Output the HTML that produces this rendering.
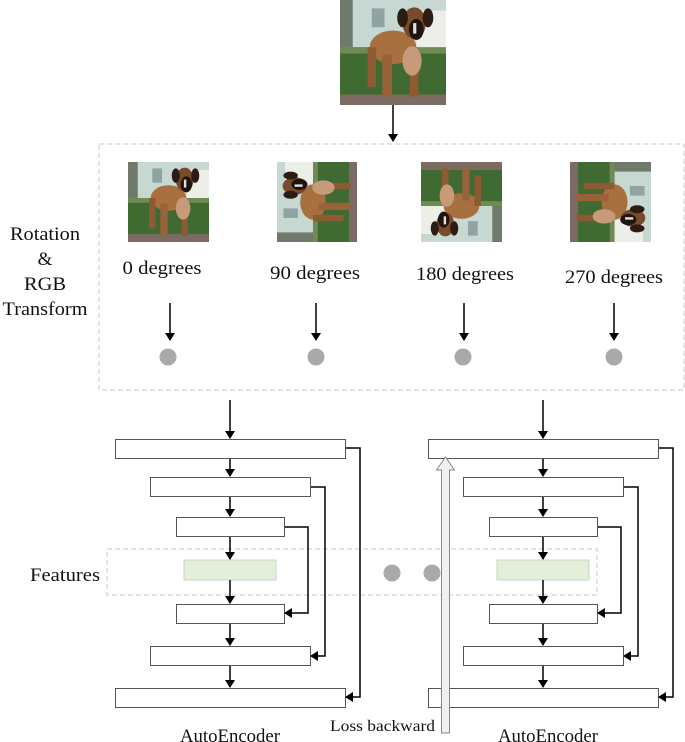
<!DOCTYPE html>
<html><head><meta charset="utf-8"><style>
html,body{margin:0;padding:0;background:#fff;}
svg{display:block;}
text{font-family:"Liberation Serif",serif;fill:#111;}
</style></head><body>
<svg width="685" height="742" viewBox="0 0 685 742" xmlns="http://www.w3.org/2000/svg">
<defs>
<marker id="ah" markerWidth="8" markerHeight="10" refX="7" refY="5" orient="auto" markerUnits="userSpaceOnUse">
<path d="M0,0 L8,5 L0,10 z" fill="#000"/></marker>
<symbol id="dog" viewBox="0 0 100 100" preserveAspectRatio="none">
<rect x="0" y="0" width="100" height="100" fill="#3f6a32"/>
<rect x="0" y="0" width="100" height="45" fill="#c7d8d3"/>
<rect x="72" y="10" width="28" height="35" fill="#eceee8"/>
<rect x="0" y="0" width="12" height="45" fill="#6f7a6a"/>
<rect x="30" y="8" width="12" height="18" fill="#8fa3a2"/>
<rect x="0" y="45" width="100" height="6" fill="#6f8a52"/>
<rect x="0" y="90" width="100" height="10" fill="#7b6b62"/>
<ellipse cx="50" cy="45" rx="22" ry="16" fill="#a8703f"/>
<rect x="26" y="45" width="8" height="38" fill="#8e5a32"/>
<rect x="40" y="52" width="9" height="40" fill="#9a6238"/>
<rect x="66" y="52" width="8" height="40" fill="#8e5a32"/>
<ellipse cx="68" cy="58" rx="9" ry="14" fill="#c79a7a"/>
<ellipse cx="70" cy="22" rx="11" ry="15" fill="#7a4a2c"/>
<ellipse cx="72" cy="28" rx="7" ry="10" fill="#1e1410"/>
<ellipse cx="59" cy="17" rx="5" ry="9" fill="#2c1c14"/>
<ellipse cx="83" cy="17" rx="5" ry="9" fill="#2c1c14"/>
<rect x="69" y="22" width="3" height="10" fill="#e8e0d8"/>
</symbol>
</defs>

<use href="#dog" x="340" y="0" width="106" height="105"/>
<line x1="393" y1="105" x2="393" y2="141" stroke="#000" stroke-width="1.5" marker-end="url(#ah)"/>

<rect x="99" y="144" width="585" height="246" fill="none" stroke="#c8c8c8" stroke-dasharray="5,3"/>

<use href="#dog" x="128" y="162" width="81" height="80"/>
<g transform="translate(317,202) rotate(-90)"><use href="#dog" x="-40" y="-40" width="80" height="80"/></g>
<g transform="translate(462,202) rotate(180)"><use href="#dog" x="-40" y="-40" width="81" height="80"/></g>
<g transform="translate(611,202) rotate(90)"><use href="#dog" x="-40" y="-40" width="80" height="81"/></g>

<g font-size="19" text-anchor="middle">
<text x="162" y="274" textLength="79" lengthAdjust="spacingAndGlyphs">0 degrees</text>
<text x="315" y="279" textLength="90" lengthAdjust="spacingAndGlyphs">90 degrees</text>
<text x="465" y="280" textLength="98" lengthAdjust="spacingAndGlyphs">180 degrees</text>
<text x="614" y="283" textLength="98" lengthAdjust="spacingAndGlyphs">270 degrees</text>
<text x="45" y="240" textLength="70" lengthAdjust="spacingAndGlyphs">Rotation</text>
<text x="45" y="265">&amp;</text>
<text x="45" y="290" textLength="42" lengthAdjust="spacingAndGlyphs">RGB</text>
<text x="45" y="315" textLength="85" lengthAdjust="spacingAndGlyphs">Transform</text>
<text x="65" y="581" textLength="70" lengthAdjust="spacingAndGlyphs">Features</text>
<text x="230" y="742" textLength="100" lengthAdjust="spacingAndGlyphs">AutoEncoder</text>
<text x="548" y="742" textLength="100" lengthAdjust="spacingAndGlyphs">AutoEncoder</text>
</g>
<text x="330" y="731" font-size="16" textLength="105" lengthAdjust="spacingAndGlyphs">Loss backward</text>

<g stroke="#000" stroke-width="1.5">
<line x1="170" y1="303" x2="170" y2="340" marker-end="url(#ah)"/>
<line x1="316" y1="303" x2="316" y2="340" marker-end="url(#ah)"/>
<line x1="464" y1="303" x2="464" y2="340" marker-end="url(#ah)"/>
<line x1="614" y1="303" x2="614" y2="340" marker-end="url(#ah)"/>
</g>
<g fill="#a9a9a9">
<circle cx="168" cy="357" r="8.5"/><circle cx="316" cy="357" r="8.5"/>
<circle cx="463" cy="357" r="8.5"/><circle cx="614" cy="357" r="8.5"/>
<circle cx="392" cy="573" r="8.5"/><circle cx="432" cy="573" r="8.5"/>
</g>

<rect x="107" y="549" width="490" height="46" fill="none" stroke="#c8c8c8" stroke-dasharray="5,3"/>

<g id="ae">
<line x1="230" y1="400" x2="230" y2="438" stroke="#000" stroke-width="1.5" marker-end="url(#ah)"/>
<g fill="#fff" stroke="#555" stroke-width="1">
<rect x="115.5" y="439.5" width="230" height="19"/>
<rect x="150.5" y="477.5" width="160" height="19"/>
<rect x="176.5" y="517.5" width="108" height="19"/>
<rect x="176.5" y="604.5" width="108" height="19"/>
<rect x="150.5" y="646.5" width="160" height="19"/>
<rect x="115.5" y="688.5" width="230" height="19"/>
</g>
<rect x="184" y="560" width="92" height="20" fill="#e2efda" stroke="#c9d6c0"/>
<g stroke="#000" stroke-width="1.5" fill="none">
<line x1="230" y1="459" x2="230" y2="476" marker-end="url(#ah)"/>
<line x1="230" y1="497" x2="230" y2="516" marker-end="url(#ah)"/>
<line x1="230" y1="537" x2="230" y2="559" marker-end="url(#ah)"/>
<line x1="230" y1="580" x2="230" y2="603" marker-end="url(#ah)"/>
<line x1="230" y1="624" x2="230" y2="645" marker-end="url(#ah)"/>
<line x1="230" y1="666" x2="230" y2="687" marker-end="url(#ah)"/>
<polyline points="346,448 360,448 360,697 346,697" marker-end="url(#ah)"/>
<polyline points="311,487 325,487 325,656 311,656" marker-end="url(#ah)"/>
<polyline points="285,527 308,527 308,613 285,613" marker-end="url(#ah)"/>
</g>
</g>
<use href="#ae" transform="translate(313,0)"/>

<path d="M441.5,733 L441.5,470 L436.5,470 L445.5,457 L454.5,470 L449.5,470 L449.5,733 Z" fill="#f0f0f0" stroke="#888" stroke-width="1"/>
</svg>
</body></html>
